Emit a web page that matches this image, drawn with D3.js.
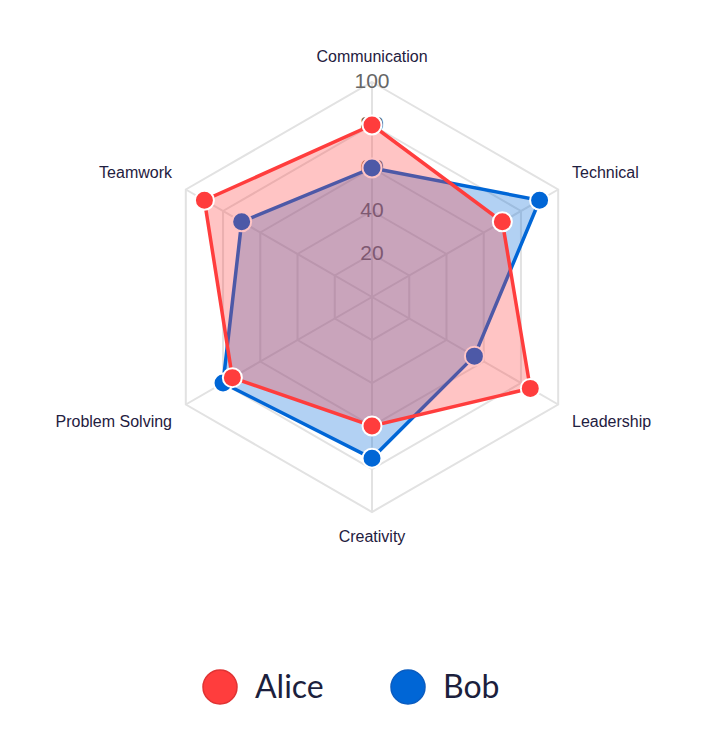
<!DOCTYPE html>
<html><head><meta charset="utf-8">
<script src="https://cdn.jsdelivr.net/npm/d3@7"></script>
<style>body{margin:0;background:#fff}svg{display:block}</style>
</head><body>
<svg id="c" width="704" height="742"></svg>
<script>
const axes = ["Communication","Technical","Leadership","Creativity","Problem Solving","Teamwork"];
const seriesNames = ["Alice","Bob"];
const alice = [80, 70, 85, 60, 75, 90];
const bob = [60, 90, 55, 75, 80, 70];
const ticks = [20, 40, 60, 80, 100];
const colors = {Alice:"#ff3d3d", Bob:"#0066d6"};
const borders = {Alice:"#e03333", Bob:"#0a5cc0"};

const svg = d3.select("#c");
const cx = 372, cy = 297, R = 215;
const r = d3.scaleLinear().domain([0,100]).range([0,R]);
const ang = d3.scalePoint().domain(axes).range([0, 2*Math.PI*(axes.length-1)/axes.length]);
const pt = (a, v) => [cx + r(v)*Math.sin(ang(a)), cy - r(v)*Math.cos(ang(a))];

const g = svg.append("g");
ticks.forEach(t => {
  g.append("polygon").attr("points", axes.map(a => pt(a,t).join(",")).join(" "))
   .attr("fill","none").attr("stroke","#e2e2e2").attr("stroke-width",2);
});
axes.forEach(a => {
  const [x,y] = pt(a,100);
  g.append("line").attr("x1",cx).attr("y1",cy).attr("x2",x).attr("y2",y)
   .attr("stroke","#e2e2e2").attr("stroke-width",2);
});
ticks.forEach(t => {
  g.append("text").attr("x",cx).attr("y",cy - r(t)).attr("dy","0.3em")
   .attr("text-anchor","middle").attr("font-family","Liberation Sans, Arial, sans-serif")
   .attr("font-size",21).attr("fill","#666").text(t);
});
const data = {Alice: alice, Bob: bob};
["Bob","Alice"].forEach(name => {
  const vals = data[name];
  const c = d3.color(colors[name]);
  const fill = `rgba(${c.r},${c.g},${c.b},0.3)`;
  const line = d3.line().curve(d3.curveLinearClosed);
  g.append("path").attr("d", line(axes.map((a,i)=>pt(a,vals[i]))))
   .attr("fill",fill).attr("stroke",colors[name]).attr("stroke-width",3.5).attr("stroke-linejoin","miter");
  g.selectAll(null).data(axes).enter().append("circle")
   .attr("cx",(a,i)=>pt(a,vals[i])[0]).attr("cy",(a,i)=>pt(a,vals[i])[1])
   .attr("r",9.5).attr("fill",colors[name]).attr("stroke","#fff").attr("stroke-width",2);
});
const lab = [
  {a:"Communication", x:cx, y:56, anchor:"middle"},
  {a:"Technical", x:572, y:172, anchor:"start"},
  {a:"Leadership", x:572, y:421, anchor:"start"},
  {a:"Creativity", x:cx, y:536, anchor:"middle"},
  {a:"Problem Solving", x:172, y:421, anchor:"end"},
  {a:"Teamwork", x:172, y:172, anchor:"end"}
];
lab.forEach(l => {
  g.append("text").attr("x",l.x).attr("y",l.y).attr("dy","0.35em").attr("text-anchor",l.anchor)
   .attr("font-family","Liberation Sans, Arial, sans-serif").attr("font-size",16)
   .attr("fill","#1f2040").text(l.a);
});
const leg = [{n:"Alice", x:220},{n:"Bob", x:408}];
leg.forEach(l => {
  svg.append("circle").attr("cx",l.x).attr("cy",687).attr("r",17)
    .attr("fill",colors[l.n]).attr("stroke",borders[l.n]).attr("stroke-width",1.5);
  svg.append("text").attr("x",l.x+35).attr("y",687).attr("dy","0.35em")
    .attr("font-family","Lato, sans-serif").attr("font-size",32).attr("fill","#1c1f3d").text(l.n);
});
</script>
</body></html>
